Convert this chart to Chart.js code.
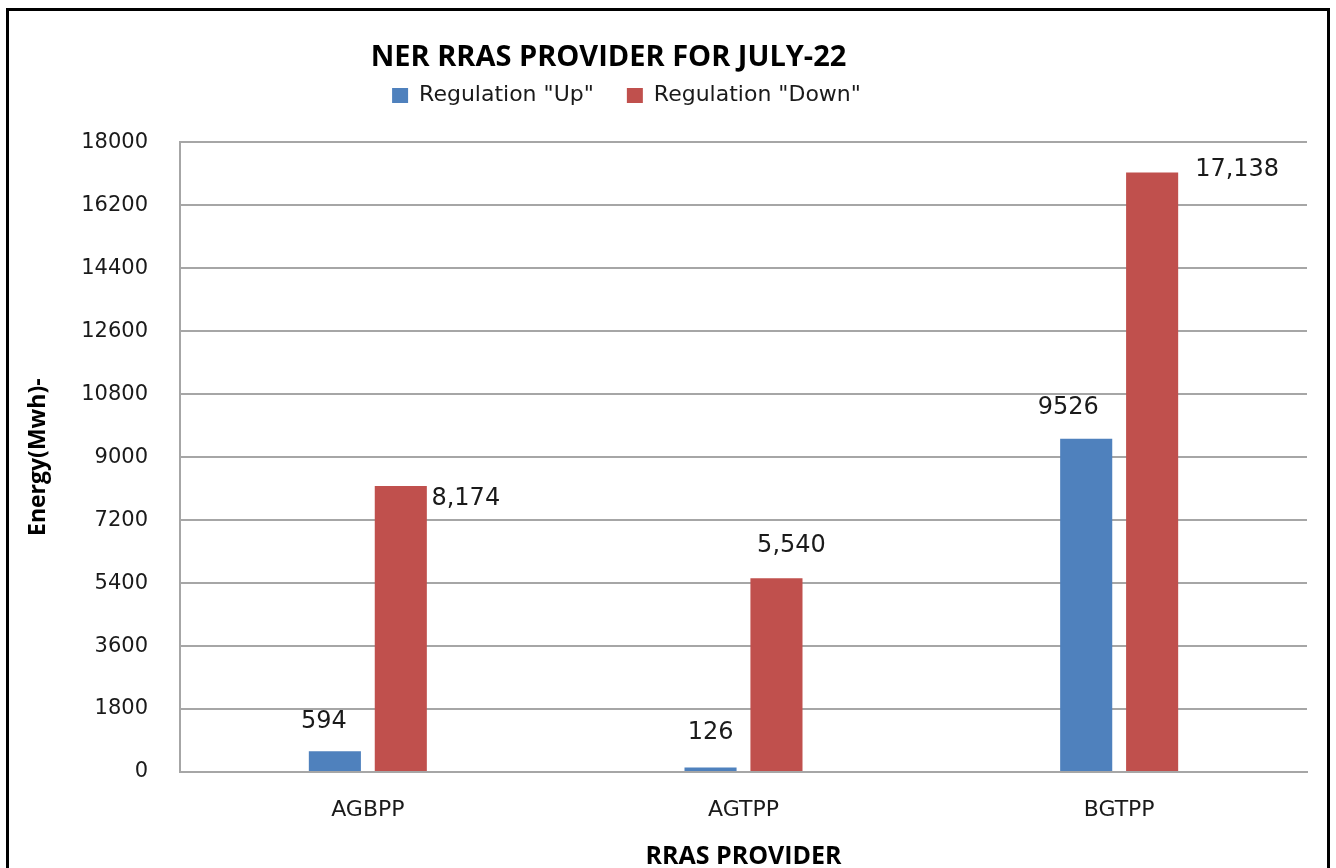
<!DOCTYPE html>
<html>
<head>
<meta charset="utf-8">
<title>NER RRAS PROVIDER FOR JULY-22</title>
<script src="https://cdn.jsdelivr.net/npm/chart.js@4.4.0/dist/chart.umd.min.js"></script>
<style>
  html, body { margin: 0; padding: 0; background: #fff; overflow: hidden; }
  #wrap { position: relative; width: 1336px; height: 880px; }
  #frame {
    position: absolute; left: 6px; top: 8px; width: 1324px; height: 900px;
    border: 3px solid #000; box-sizing: border-box; pointer-events: none;
  }
</style>
</head>
<body>
<div id="wrap">
  <canvas id="myChart" width="1336" height="880"></canvas>
  <div id="frame"></div>
</div>
<script>
// data
const providers = ['AGBPP', 'AGTPP', 'BGTPP'];
const regulationUp = [594, 126, 9526];
const regulationDown = [8174, 5540, 17138];
const yTickValues = [0, 1800, 3600, 5400, 7200, 9000, 10800, 12600, 14400, 16200, 18000];

// where each value label sits, relative to the top centre of its bar (px)
const labelOffsets = [
  [[-11, -29], [0, -35], [-18, -31]],
  [[65, 13], [15, -32], [85, -3]]
];

const BLUE = '#4F81BD';
const RED = '#C0504D';
const GRID = '#a6a6a6';
const REGULAR = '"DejaVu Sans", sans-serif';
const BOLD = '"Open Sans", sans-serif';

// Excel-like placement of the header (title/legend are not centred on the canvas)
const headerShift = {
  id: 'headerShift',
  afterLayout(chart) {
    chart.titleBlock.left -= 45;
    chart.titleBlock.right -= 45;
    chart.legend.left -= 27;
    chart.legend.right -= 27;
  }
};

// value labels on the bars
const valueLabels = {
  id: 'valueLabels',
  afterDatasetsDraw(chart) {
    const ctx = chart.ctx;
    ctx.save();
    ctx.font = '24px ' + REGULAR;
    ctx.fillStyle = '#1a1a1a';
    ctx.textAlign = 'center';
    ctx.textBaseline = 'middle';
    chart.data.datasets.forEach((ds, di) => {
      const meta = chart.getDatasetMeta(di);
      meta.data.forEach((bar, i) => {
        const v = ds.data[i];
        const txt = di === 1 ? v.toLocaleString('en-US') : String(v);
        const off = labelOffsets[di][i];
        ctx.fillText(txt, bar.x + off[0], bar.y + off[1]);
      });
    });
    ctx.restore();
  }
};

const ctx = document.getElementById('myChart').getContext('2d');
new Chart(ctx, {
  type: 'bar',
  data: {
    labels: providers,
    datasets: [
      { label: 'Regulation "Up"', data: regulationUp, backgroundColor: BLUE, borderWidth: 0 },
      { label: 'Regulation "Down"', data: regulationDown, backgroundColor: RED, borderWidth: 0 }
    ]
  },
  options: {
    responsive: false,
    animation: false,
    layout: { padding: { left: 0, right: 29, top: 0, bottom: 0 } },
    datasets: { bar: { categoryPercentage: 0.351, barPercentage: 0.79 } },
    plugins: {
      tooltip: { enabled: false },
      title: {
        display: true,
        text: 'NER RRAS PROVIDER FOR JULY-22',
        color: '#000',
        font: { family: BOLD, size: 29, weight: 'bold', lineHeight: 1.2 },
        padding: { top: 40, bottom: -23.4 }
      },
      legend: {
        display: true,
        position: 'top',
        labels: {
          boxWidth: 16,
          boxHeight: 15,
          padding: 33,
          color: '#1a1a1a',
          font: { family: REGULAR, size: 22 }
        }
      },
      // empty spacer between legend and plot
      subtitle: {
        display: true,
        text: '',
        weight: 500,
        font: { size: 10, lineHeight: 1 },
        padding: { top: 0, bottom: 16 }
      }
    },
    scales: {
      x: {
        grid: { display: false },
        border: { display: true, color: GRID, width: 2 },
        ticks: { color: '#1a1a1a', font: { family: REGULAR, size: 22 }, padding: 17 },
        title: {
          display: true,
          text: 'RRAS PROVIDER',
          color: '#000',
          font: { family: BOLD, size: 25, weight: 'bold', lineHeight: 1.2 },
          padding: { top: 0, bottom: 8 }
        },
        afterFit: s => { s.height = 108; }
      },
      y: {
        min: 0,
        max: 18000,
        afterBuildTicks: s => { s.ticks = yTickValues.map(v => ({ value: v })); },
        grid: { color: GRID, lineWidth: 2, drawTicks: false },
        border: { display: true, color: GRID, width: 2 },
        ticks: {
          color: '#1a1a1a',
          font: { family: REGULAR, size: 21 },
          padding: 32,
          callback: v => String(v)
        },
        title: {
          display: true,
          text: 'Energy(Mwh)-',
          color: '#000',
          font: { family: BOLD, size: 23, weight: 'bold', lineHeight: 1.2 },
          padding: { top: 25, bottom: 0 }
        },
        afterFit: s => { s.width = 180; }
      }
    }
  },
  plugins: [headerShift, valueLabels]
});
</script>
</body>
</html>
